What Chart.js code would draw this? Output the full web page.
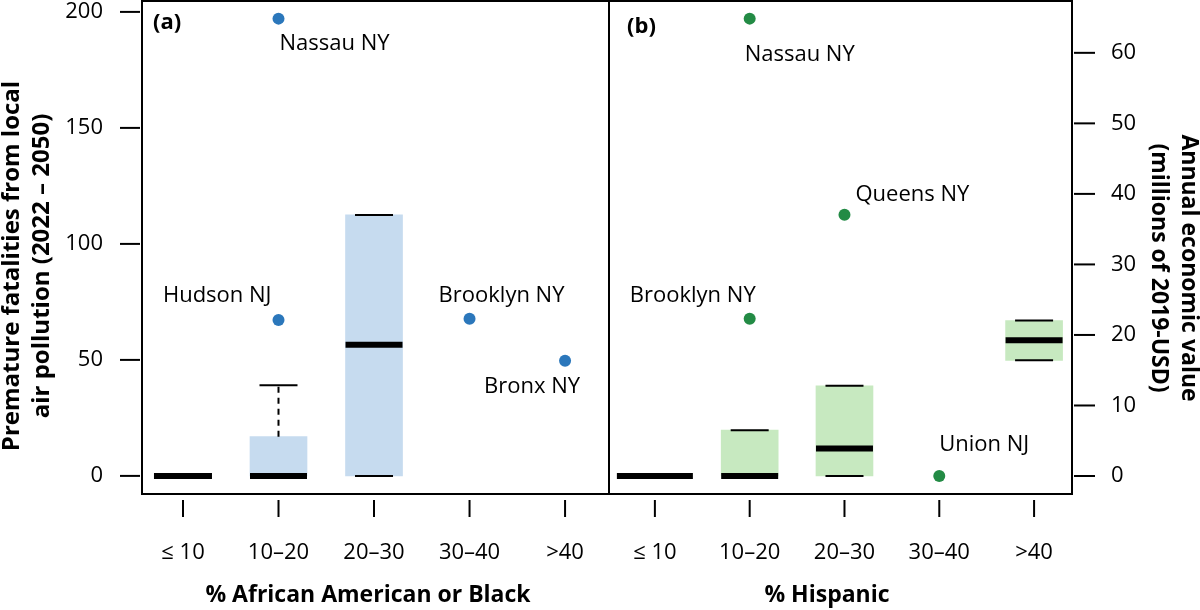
<!DOCTYPE html>
<html>
<head>
<meta charset="utf-8">
<title>Premature fatalities and economic value by county demographics</title>
<script src="https://cdn.jsdelivr.net/npm/chart.js"></script>
<style>
  html, body { margin: 0; padding: 0; background: #fff; }
  #wrap { position: relative; width: 1200px; height: 610px; }
  .panel { position: absolute; top: 0; height: 610px; }
  #panelA { left: 0; width: 612px; }
  #panelB { left: 606px; width: 594px; }
</style>
</head>
<body>
<div id="wrap">
  <div class="panel" id="panelA"><canvas id="chartA"></canvas></div>
  <div class="panel" id="panelB"><canvas id="chartB"></canvas></div>
</div>
<script>
// population share groups (x categories, same for both panels)
const groups = ['≤ 10', '10–20', '20–30', '30–40', '>40']

// (a) premature fatalities 2022-2050, by % African American or Black
const blackLow = [0, 0, 0, null, null]
const blackQ1 = [0, 0, 0, null, null]
const blackMedian = [0, 0, 56.5, null, null]
const blackQ3 = [0, 16.9, 112.5, null, null]
const blackHigh = [0, 39.1, 112.5, null, null]
const blackOutlierGroup = [2, 2, 4, 5]
const blackOutlierValue = [197.1, 67.2, 67.7, 49.6]
const blackOutlierName = ['Nassau NY', 'Hudson NJ', 'Brooklyn NY', 'Bronx NY']
const fatalityTicks = [0, 50, 100, 150, 200]

// (b) annual economic value (millions of 2019-USD), by % Hispanic
const hispLow = [0, 0, 0, null, 16.4]
const hispQ1 = [0, 0, 0, null, 16.4]
const hispMedian = [0, 0, 3.9, null, 19.25]
const hispQ3 = [0, 6.5, 12.8, null, 22.05]
const hispHigh = [0, 6.5, 12.8, null, 22.05]
const hispOutlierGroup = [2, 2, 3, 4]
const hispOutlierValue = [64.85, 22.3, 37.05, 0]
const hispOutlierName = ['Nassau NY', 'Brooklyn NY', 'Queens NY', 'Union NJ']
const valueTicks = [0, 10, 20, 30, 40, 50, 60]

const FONT = '"Open Sans", "Noto Sans", sans-serif'
Chart.defaults.font.family = FONT
Chart.defaults.color = '#000'

function line (ctx, x1, y1, x2, y2) {
  ctx.beginPath()
  ctx.moveTo(x1, y1)
  ctx.lineTo(x2, y2)
  ctx.stroke()
}

// chart.js adds tick padding to the chart area insets, drop it
function noPadding (s) {
  s.paddingTop = 0
  s.paddingBottom = 0
  s.paddingLeft = 0
  s.paddingRight = 0
}

function boxPlotPlugin (p) {
  return {
    id: 'boxplot',
    afterDatasetsDraw (chart) {
      const { ctx, scales: { x, y } } = chart
      ctx.save()
      ctx.strokeStyle = '#000'
      p.median.forEach((m, i) => {
        if (m === null) return
        const cx = x.getPixelForValue(i + 1)
        const half = p.boxWidth[i] / 2
        const cap = 19
        // dashed whiskers
        ctx.lineWidth = 2
        ctx.setLineDash([6, 5])
        if (p.high[i] > p.q3[i]) line(ctx, cx, y.getPixelForValue(p.q3[i]), cx, y.getPixelForValue(p.high[i]))
        if (p.low[i] < p.q1[i]) line(ctx, cx, y.getPixelForValue(p.q1[i]), cx, y.getPixelForValue(p.low[i]))
        ctx.setLineDash([])
        // whisker caps
        ;[p.low[i], p.high[i]].forEach(v => {
          const py = y.getPixelForValue(v)
          line(ctx, cx - cap, py, cx + cap, py)
        })
        // median
        ctx.lineWidth = 6
        const my = y.getPixelForValue(m)
        line(ctx, cx - half, my, cx + half, my)
      })
      ctx.restore()
    },
    afterDraw (chart) {
      const { ctx, chartArea: a, scales: { x, y } } = chart
      ctx.save()
      ctx.strokeStyle = '#000'
      ctx.fillStyle = '#000'
      ctx.lineWidth = 2
      // frame
      ctx.strokeRect(a.left, a.top, a.right - a.left, a.bottom - a.top)
      // x tick marks, detached from the frame
      groups.forEach((g, i) => {
        const px = x.getPixelForValue(i + 1)
        line(ctx, px, a.bottom + 6, px, a.bottom + 23)
      })
      // y tick marks
      p.yTicks.forEach(v => {
        const py = y.getPixelForValue(v)
        if (p.side === 'left') line(ctx, a.left - 22, py, a.left - 2, py)
        else line(ctx, a.right + 2, py, a.right + 23, py)
      })
      // outlier names
      ctx.font = '22px ' + FONT
      ctx.textBaseline = 'middle'
      p.outGroup.forEach((g, i) => {
        const place = p.labelPlace[i]
        ctx.textAlign = place.align
        ctx.fillText(p.outName[i], x.getPixelForValue(g) + place.dx, y.getPixelForValue(p.outValue[i]) + place.dy)
      })
      // panel letter
      ctx.font = 'bold 22px ' + FONT
      ctx.textAlign = 'left'
      ctx.fillText(p.letter, a.left + p.letterDx, a.top + p.letterDy)
      // x axis title
      ctx.font = 'bold 23px ' + FONT
      ctx.textAlign = 'center'
      ctx.fillText(p.xTitle, p.xTitleX, 595)
      // y axis title (two lines, rotated)
      ctx.font = 'bold ' + p.yTitleSize + 'px ' + FONT
      p.yTitle.forEach((t, i) => {
        ctx.save()
        ctx.translate(p.yTitleX[i], p.yTitleY)
        ctx.rotate(p.side === 'left' ? -Math.PI / 2 : Math.PI / 2)
        ctx.fillText(t, 0, 0)
        ctx.restore()
      })
      ctx.restore()
    }
  }
}

function makeChart (id, p) {
  const boxes = groups.map((g, i) => p.q1[i] === null ? null : { x: i + 1, y: [p.q1[i], p.q3[i]] })
    .filter(d => d !== null)
  const points = p.outGroup.map((g, i) => ({ x: g, y: p.outValue[i] }))
  return new Chart(document.getElementById(id), {
    type: 'bar',
    data: {
      datasets: [
        {
          type: 'scatter',
          data: points,
          pointRadius: 6,
          pointBackgroundColor: p.pointColor,
          pointBorderWidth: 0
        },
        {
          data: boxes,
          backgroundColor: p.boxColor,
          barThickness: 57,
          grouped: false
        }
      ]
    },
    options: {
      responsive: true,
      maintainAspectRatio: false,
      animation: false,
      events: [],
      layout: { padding: p.padding, autoPadding: false },
      plugins: { legend: { display: false }, tooltip: { enabled: false } },
      scales: {
        x: {
          type: 'linear',
          min: p.xMin,
          max: p.xMax,
          offset: false,
          grid: { display: false },
          border: { display: false },
          afterBuildTicks: s => { s.ticks = groups.map((g, i) => ({ value: i + 1 })) },
          afterFit: s => { s.height = 116; noPadding(s) },
          ticks: {
            autoSkip: false,
            maxRotation: 0,
            padding: 38,
            font: { size: 22 },
            callback: v => groups[v - 1]
          }
        },
        y: {
          type: 'linear',
          position: p.side,
          min: p.yMin,
          max: p.yMax,
          grid: { display: false },
          border: { display: false },
          afterBuildTicks: s => { s.ticks = p.yTicks.map(v => ({ value: v })) },
          afterFit: s => { s.width = p.yWidth; noPadding(s) },
          ticks: { padding: 31, font: { size: 22 } }
        }
      }
    },
    plugins: [boxPlotPlugin(p)]
  })
}

makeChart('chartA', {
  low: blackLow, q1: blackQ1, median: blackMedian, q3: blackQ3, high: blackHigh,
  outGroup: blackOutlierGroup, outValue: blackOutlierValue, outName: blackOutlierName,
  yTicks: fatalityTicks,
  yMin: -7.8, yMax: 204.7, xMin: 0.571, xMax: 5.46,
  side: 'left', yWidth: 142,
  padding: { left: 0, right: 3, top: 1, bottom: 0 },
  boxWidth: [58, 57, 57, 57, 57],
  boxColor: '#c6dbef', pointColor: '#2b77bb',
  labelPlace: [
    { align: 'left', dx: 1, dy: 25 },
    { align: 'right', dx: -7, dy: -24 },
    { align: 'center', dx: 32, dy: -23 },
    { align: 'center', dx: -33, dy: 26 }
  ],
  letter: '(a)', letterDx: 11, letterDy: 22,
  xTitle: '% African American or Black', xTitleX: 368,
  yTitle: ['Premature fatalities from local', 'air pollution (2022 – 2050)'],
  yTitleSize: 24, yTitleX: [12, 42], yTitleY: 266
})

makeChart('chartB', {
  low: hispLow, q1: hispQ1, median: hispMedian, q3: hispQ3, high: hispHigh,
  outGroup: hispOutlierGroup, outValue: hispOutlierValue, outName: hispOutlierName,
  yTicks: valueTicks,
  yMin: -2.55, yMax: 67.35, xMin: 0.516, xMax: 5.4,
  side: 'right', yWidth: 128,
  padding: { left: 3, right: 0, top: 1, bottom: 0 },
  boxWidth: [76, 57, 57, 57, 57],
  boxColor: '#c7e9c0', pointColor: '#238b45',
  labelPlace: [
    { align: 'left', dx: -5, dy: 36 },
    { align: 'right', dx: 6, dy: -23 },
    { align: 'left', dx: 11, dy: -20 },
    { align: 'left', dx: 0, dy: -31 }
  ],
  letter: '(b)', letterDx: 18, letterDy: 26,
  xTitle: '% Hispanic', xTitleX: 221,
  yTitle: ['(millions of 2019-USD)', 'Annual economic value'],
  yTitleSize: 23, yTitleX: [553, 583], yTitleY: 268
})
</script>
</body>
</html>
